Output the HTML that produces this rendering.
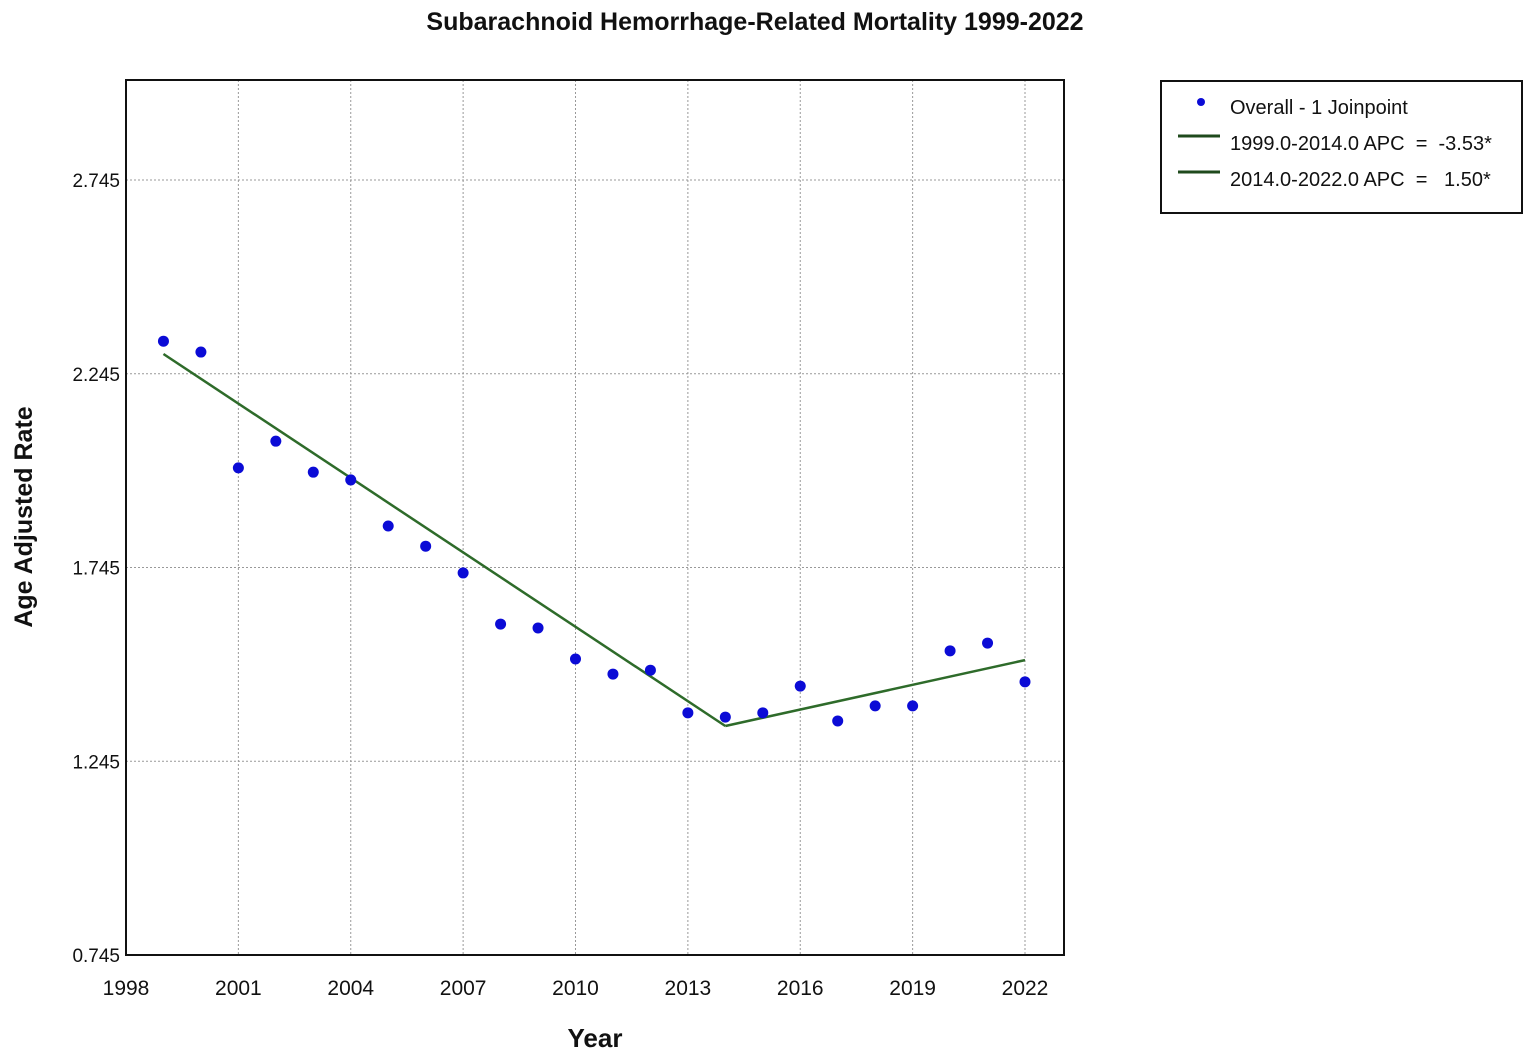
<!DOCTYPE html>
<html><head><meta charset="utf-8"><style>
html,body{margin:0;padding:0;background:#fff;width:1535px;height:1057px;overflow:hidden}
svg{display:block;font-family:"Liberation Sans",sans-serif}
text{white-space:pre}
</style></head><body>
<svg id="c" width="1535" height="1057"></svg>
<script>
const years=[1999,2000,2001,2002,2003,2004,2005,2006,2007,2008,2009,2010,2011,2012,2013,2014,2015,2016,2017,2018,2019,2020,2021,2022];
const rates=[2.329,2.301,2.002,2.071,1.991,1.971,1.852,1.800,1.731,1.599,1.589,1.509,1.470,1.480,1.370,1.359,1.370,1.439,1.349,1.388,1.388,1.530,1.550,1.450];
const fitYears=[1999,2014,2022];
const fitValues=[2.296,1.336,1.506];
const xTicks=[1998,2001,2004,2007,2010,2013,2016,2019,2022];
const yTicks=[0.745,1.245,1.745,2.245,2.745];
const legendLabels=["Overall - 1 Joinpoint","1999.0-2014.0 APC  =  -3.53*","2014.0-2022.0 APC  =   1.50*"];

const L=126,R=1064,T=80,B=955;
const x=v=>L+(v-1998)*(1025-126)/24;
const y=v=>B-(v-0.745)*387.5;
const NS="http://www.w3.org/2000/svg";
const svg=document.getElementById('c');
function mk(t,a,p){const e=document.createElementNS(NS,t);for(const k in a)e.setAttribute(k,a[k]);(p||svg).appendChild(e);return e;}

let t=mk('text',{x:755,y:30,'text-anchor':'middle','font-size':25,'font-weight':'bold',fill:'#111'});t.textContent='Subarachnoid Hemorrhage-Related Mortality 1999-2022';



xTicks.forEach(v=>{
  if(v>1998){const g=mk('line',{x1:x(v),x2:x(v),y1:T,y2:B,stroke:'#999','stroke-dasharray':'2,2'});
  
  }
  const l=mk('text',{x:x(v),y:995,'text-anchor':'middle','font-size':21,fill:'#111'});l.textContent=v;
  
  
});
yTicks.forEach(v=>{
  if(v>0.745){const g=mk('line',{x1:L,x2:R,y1:y(v),y2:y(v),stroke:'#999','stroke-dasharray':'2,2'});
  
  }
  const l=mk('text',{x:120,y:y(v)+7,'text-anchor':'end','font-size':19,fill:'#111'});l.textContent=v.toFixed(3);
  
  
});
const fr=mk('rect',{x:L,y:T,width:R-L,height:B-T,fill:'none',stroke:'#111','stroke-width':2});



const xt=mk('text',{x:595,y:1047,'text-anchor':'middle','font-size':26,'font-weight':'bold',fill:'#111'});xt.textContent='Year';


const yt=mk('text',{x:0,y:0,transform:'translate(32,517) rotate(-90)','text-anchor':'middle','font-size':25,'font-weight':'bold',fill:'#111'});yt.textContent='Age Adjusted Rate';



for(let i=0;i<fitYears.length-1;i++){
  const s=mk('line',{x1:x(fitYears[i]),y1:y(fitValues[i]),x2:x(fitYears[i+1]),y2:y(fitValues[i+1]),stroke:'#2e6b2a','stroke-width':2.5});
  
  
}
years.forEach((yr,i)=>{
  const c=mk('circle',{cx:x(yr),cy:y(rates[i]),r:5.5,fill:'#0b0bd6'});
  
  
});

const lg=mk('g',{});


mk('rect',{x:1161,y:81,width:361,height:132,fill:'#fff',stroke:'#111','stroke-width':2},lg);
mk('circle',{cx:1201,cy:102,r:4,fill:'#0b0bd6'},lg);
mk('line',{x1:1178,x2:1220,y1:136,y2:136,stroke:'#1f4a1c','stroke-width':3},lg);
mk('line',{x1:1178,x2:1220,y1:172,y2:172,stroke:'#1f4a1c','stroke-width':3},lg);
legendLabels.forEach((s,i)=>{
  const e=mk('text',{x:1230,y:114+i*36,'font-size':20,fill:'#111'},lg);e.textContent=s;
  
  
});
</script>
</body></html>
